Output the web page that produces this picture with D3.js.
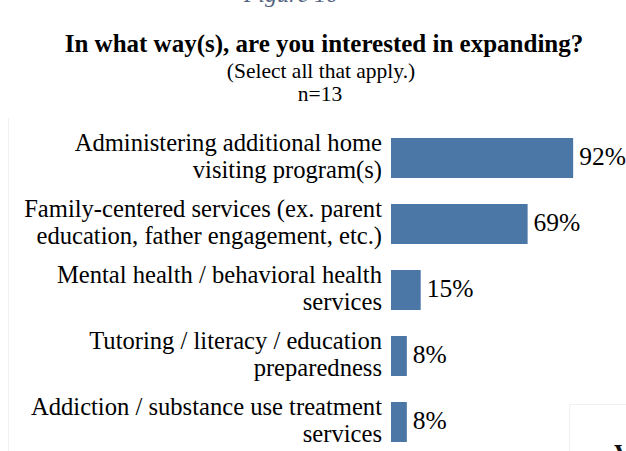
<!DOCTYPE html>
<html>
<head>
<meta charset="utf-8">
<script src="https://cdn.jsdelivr.net/npm/d3@7"></script>
<style>
  html, body { margin: 0; padding: 0; background: #fff; }
  svg { display: block; }
</style>
</head>
<body>
<svg id="chart" width="626" height="451"></svg>
<script>
// Survey responses: share of respondents interested in each kind of expansion
const categories = [
  ["Administering additional home", "visiting program(s)"],
  ["Family-centered services (ex. parent", "education, father engagement, etc.)"],
  ["Mental health / behavioral health", "services"],
  ["Tutoring / literacy / education", "preparedness"],
  ["Addiction / substance use treatment", "services"]
];
const values = [92, 69, 15, 8, 8];
const valueLabels = ["92%", "69%", "15%", "8%", "8%"];

const figureLabel = "Figure 10";
const title = "In what way(s), are you interested in expanding?";
const subtitle = "(Select all that apply.)";
const sampleSize = "n=13";

const W = 626, H = 451;
const FONT = "'Liberation Serif', 'Times New Roman', Tinos, 'DejaVu Serif', serif";
const svg = d3.select("#chart").attr("font-family", FONT);

const keys = d3.range(categories.length);

const y = d3.scaleBand()
  .domain(keys)
  .range([125, 455])
  .paddingInner(0.394)
  .paddingOuter(0.197);

const x = d3.scaleLinear()
  .domain([0, 100])
  .range([391, 589]);

// faint page edges
svg.append("line")
  .attr("x1", 8.5).attr("x2", 8.5)
  .attr("y1", 118).attr("y2", H)
  .attr("stroke", "#f1f1f1").attr("stroke-width", 1);
svg.append("path")
  .attr("d", `M569.5,${H} V404.5 H${W}`)
  .attr("fill", "none")
  .attr("stroke", "#f0f0f0").attr("stroke-width", 1);
svg.append("text")
  .attr("x", 614).attr("y", 462)
  .attr("font-family", FONT)
  .attr("font-size", 26).attr("font-weight", "bold")
  .attr("fill", "#111")
  .text("V");

// figure caption, partly above the top edge
svg.append("text")
  .attr("x", 291).attr("y", 2)
  .attr("text-anchor", "middle")
  .attr("font-family", FONT)
  .attr("font-size", 24).attr("font-style", "italic")
  .attr("fill", "#52647f")
  .text(figureLabel);

// titles
svg.append("text")
  .attr("x", 324).attr("y", 52)
  .attr("text-anchor", "middle")
  .attr("font-family", FONT)
  .attr("font-size", 25).attr("font-weight", "bold")
  .attr("fill", "#000")
  .text(title);
svg.append("text")
  .attr("x", 321).attr("y", 78)
  .attr("text-anchor", "middle")
  .attr("font-family", FONT)
  .attr("font-size", 21.5)
  .attr("fill", "#000")
  .text(subtitle);
svg.append("text")
  .attr("x", 320).attr("y", 101)
  .attr("text-anchor", "middle")
  .attr("font-family", FONT)
  .attr("font-size", 21.5)
  .attr("fill", "#000")
  .text(sampleSize);

// bars
svg.append("g").selectAll("rect")
  .data(keys)
  .join("rect")
  .attr("x", x(0))
  .attr("y", i => y(i))
  .attr("width", i => x(values[i]) - x(0))
  .attr("height", y.bandwidth())
  .attr("fill", "#4b77a6");

// value labels
svg.append("g").selectAll("text")
  .data(keys)
  .join("text")
  .attr("x", i => x(values[i]) + 6)
  .attr("y", i => y(i) + y.bandwidth() / 2 + 7)
  .attr("font-family", FONT)
  .attr("font-size", 25.5)
  .attr("fill", "#000")
  .text(i => valueLabels[i]);

// category labels (two lines each)
const lab = svg.append("g").selectAll("text")
  .data(keys)
  .join("text")
  .attr("text-anchor", "end")
  .attr("font-family", FONT)
  .attr("font-size", 24.6)
  .attr("fill", "#000")
  .attr("y", i => y(i) + y.bandwidth() / 2 - 7);
lab.selectAll("tspan")
  .data(i => categories[i])
  .join("tspan")
  .attr("x", 382)
  .attr("dy", (d, j) => j === 0 ? 0 : 27)
  .text(d => d);
</script>
</body>
</html>
